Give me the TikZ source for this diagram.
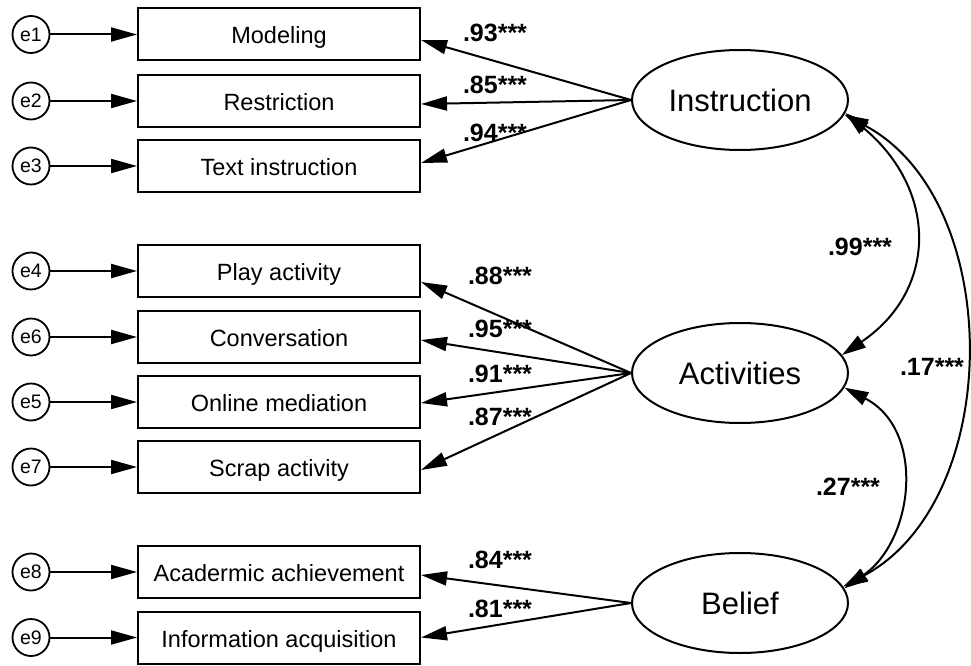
\documentclass[tikz,border=0pt]{standalone}
\usepackage{fontspec}
\setmainfont{Liberation Sans}
\usetikzlibrary{arrows.meta,shapes.geometric,calc}
\begin{document}
\begin{tikzpicture}[x=1pt,y=-1pt,
  every node/.style={inner sep=0pt},
  line width=2pt,
  obs/.style={draw, line width=2pt, minimum width=282pt, minimum height=52pt, text height=19pt, text depth=0pt, font=\fontsize{23.5}{26}\selectfont},
  err/.style={draw, circle, line width=1.8pt, minimum size=37pt, font=\fontsize{19.5}{21}\selectfont},
  lat/.style={draw, ellipse, line width=2pt, minimum width=216pt, minimum height=100pt, text height=23pt, text depth=0pt, font=\fontsize{31}{34}\selectfont},
  coef/.style={font=\bfseries\fontsize{25}{28}\selectfont},
  arr/.style={-{Triangle[length=26pt,width=14pt]}, line width=2pt},
  cov/.style={{Triangle[length=24pt,width=14pt]}-{Triangle[length=24pt,width=14pt]}, line width=2pt},
]
\useasboundingbox (0,0) rectangle (971,666);

% latent variables
\node[lat] (ins) at (740,100) {Instruction};
\node[lat] (act) at (740,373) {Activities};
\node[lat] (bel) at (740,603) {Belief};

% observed variables
\node[obs] (m1) at (279,34.5) {Modeling};
\node[obs] (m2) at (279,101) {Restriction};
\node[obs] (m3) at (279,166) {Text instruction};
\node[obs] (m4) at (279,271) {Play activity};
\node[obs] (m6) at (279,337) {Conversation};
\node[obs] (m5) at (279,402) {Online mediation};
\node[obs] (m7) at (279,467) {Scrap activity};
\node[obs] (m8) at (279,572) {Acadermic achievement};
\node[obs] (m9) at (279,637.5) {Information acquisition};

% error terms
\node[err] (e1) at (31,34.5) {e1};
\node[err] (e2) at (31,101) {e2};
\node[err] (e3) at (31,166) {e3};
\node[err] (e4) at (31,271) {e4};
\node[err] (e6) at (31,337) {e6};
\node[err] (e5) at (31,402) {e5};
\node[err] (e7) at (31,467) {e7};
\node[err] (e8) at (31,572) {e8};
\node[err] (e9) at (31,637.5) {e9};

\foreach \i in {1,...,9}{\draw[arr] (e\i) -- (m\i);}

% loadings
\draw[arr] (ins.west) -- ($(m1.east)+(0,5.5)$);
\draw[arr] (ins.west) -- ($(m2.east)+(0,3)$);
\draw[arr] (ins.west) -- ($(m3.east)+(0,-3)$);
\draw[arr] (act.west) -- ($(m4.east)+(0,11)$);
\draw[arr] (act.west) -- ($(m6.east)+(0,3)$);
\draw[arr] (act.west) -- ($(m5.east)+(0,1)$);
\draw[arr] (act.west) -- ($(m7.east)+(0,3)$);
\draw[arr] (bel.west) -- ($(m8.east)+(0,3)$);
\draw[arr] (bel.west) -- (m9.east);

% covariances
\draw[cov] (ins.-7) .. controls (938,190) and (938,290) .. (act.10);
\draw[cov] (act.-8) .. controls (926,430) and (914,540) .. (bel.8);
\draw[cov] (ins.-8) .. controls (1005,200) and (1005,500) .. (bel.9);

% coefficients
\node[coef] (c1) at (495,33) {.93***};
\node[coef] (c2) at (495,85) {.85***};
\node[coef] (c3) at (495,133) {.94***};
\node[coef] (c4) at (500,276) {.88***};
\node[coef] (c6) at (500,329) {.95***};
\node[coef] (c5) at (500,374) {.91***};
\node[coef] (c7) at (500,417) {.87***};
\node[coef] (c8) at (500,560) {.84***};
\node[coef] (c9) at (500,609) {.81***};
\node[coef] (r1) at (860,247) {.99***};
\node[coef] (r2) at (932,367) {.17***};
\node[coef] (r3) at (848,487) {.27***};
\end{tikzpicture}
\end{document}
